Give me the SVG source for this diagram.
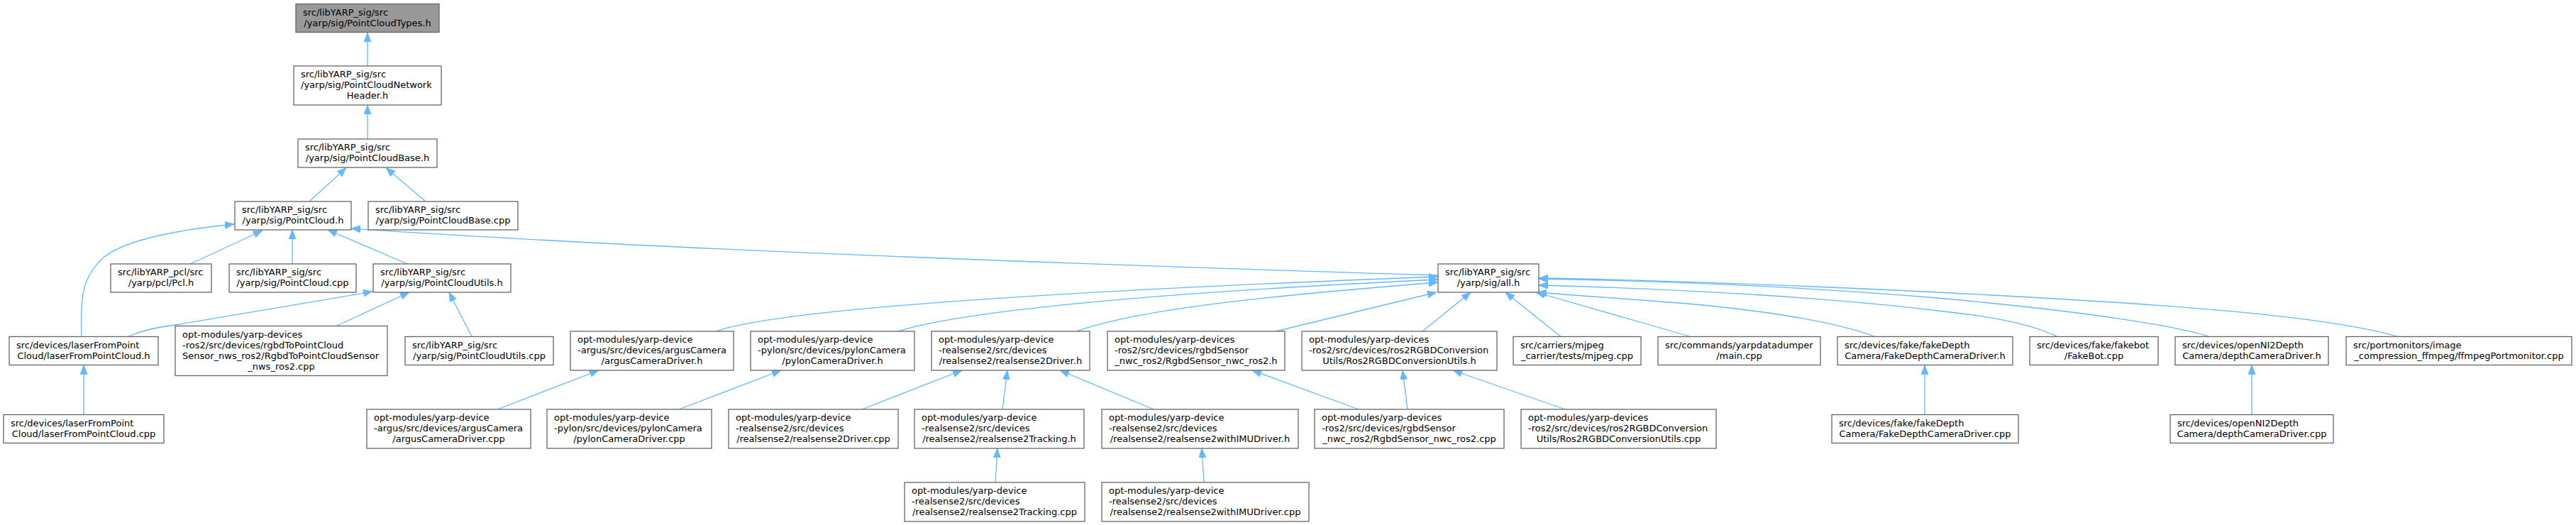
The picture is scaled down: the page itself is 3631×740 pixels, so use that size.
<svg xmlns="http://www.w3.org/2000/svg" width="3631" height="740" viewBox="0 0 3631 740">
<style>
.n rect{fill:#ffffff;stroke:#666666;stroke-width:1.3}
.root rect{fill:#999999}
text{font-family:"DejaVu Sans","Liberation Sans",sans-serif;font-size:13px;fill:#000000}
.m{text-anchor:middle}
.e path{fill:none;stroke:#63b8ff;stroke-width:1.3;marker-end:url(#a)}
</style>
<defs>
<marker id="a" markerUnits="userSpaceOnUse" markerWidth="14" markerHeight="11" refX="13" refY="5" orient="auto"><path d="M0,0 L13,5 L0,10 z" fill="#63b8ff" stroke="#63b8ff" stroke-width="0.8"/></marker>
</defs>
<rect width="3631" height="740" fill="#ffffff"/>
<g id="edges" class="e">
<path d="M518,93 L518,46"/>
<path d="M518,196 L518,148"/>
<path d="M436,284 L488,236.5"/>
<path d="M600,284 L544,236.5"/>
<path d="M115,474.5 C113,420 115,390 147,362 C175,340 240,325 330,316"/>
<path d="M268,372 L370,325"/>
<path d="M412,372 L412,324"/>
<path d="M574,372 L462,324"/>
<path d="M2027,388 C1500,372 900,350 495,322"/>
<path d="M180,474.5 C200,466 220,461 247,458 L525,411"/>
<path d="M474,459.5 L577,412"/>
<path d="M665,474.5 L633,412"/>
<path d="M118,584.5 L118,514.5"/>
<path d="M701,577 L844,522"/>
<path d="M1009,467 C1100,435 1500,410 2027,390"/>
<path d="M1266,467 C1350,440 1600,414 2027,394"/>
<path d="M1517,467 C1600,438 1750,420 2027,398"/>
<path d="M1798,467 L2025,412"/>
<path d="M2005,467 L2073,412"/>
<path d="M2200,474.5 L2122,412"/>
<path d="M2383,474.5 L2165,412"/>
<path d="M2643,474.5 C2590,455 2500,440 2400,430 C2320,423 2240,418 2167,412"/>
<path d="M2900,474.5 C2860,455 2800,445 2731,438 C2600,422 2400,408 2169,402"/>
<path d="M3114,474.5 C3070,460 2950,440 2731,420 C2550,405 2350,396 2169,393"/>
<path d="M3380,474.5 C3280,445 3050,428 2731,412 C2550,403 2350,395 2169,392"/>
<path d="M957,577 L1101,522"/>
<path d="M1215,577 L1356,522"/>
<path d="M1413,577 L1420,522"/>
<path d="M1626,577 L1494,522"/>
<path d="M1403,680 L1406,632"/>
<path d="M1697,680 L1694,632"/>
<path d="M1915,577 L1765,522"/>
<path d="M1984,577 L1977,522"/>
<path d="M2206,577 L2048,522"/>
<path d="M2713,584.5 L2713,514.5"/>
<path d="M3174,584.5 L3174,514.5"/>
</g>
<g id="node_types" class="n root"><rect x="417" y="5.5" width="202" height="40"/><text x="427" y="21.5">src/libYARP_sig/src</text><text class="m" x="518" y="36.5">/yarp/sig/PointCloudTypes.h</text></g>
<g id="node_net" class="n"><rect x="414" y="93" width="208" height="55"/><text x="424" y="109">src/libYARP_sig/src</text><text x="424" y="124">/yarp/sig/PointCloudNetwork</text><text class="m" x="518" y="139">Header.h</text></g>
<g id="node_base" class="n"><rect x="420" y="196" width="196" height="40"/><text x="430" y="212">src/libYARP_sig/src</text><text class="m" x="518" y="227">/yarp/sig/PointCloudBase.h</text></g>
<g id="node_pc" class="n"><rect x="331" y="284" width="164" height="40"/><text x="341" y="300">src/libYARP_sig/src</text><text class="m" x="413" y="315">/yarp/sig/PointCloud.h</text></g>
<g id="node_basecpp" class="n"><rect x="519" y="284" width="211" height="40"/><text x="529" y="300">src/libYARP_sig/src</text><text class="m" x="624.5" y="315">/yarp/sig/PointCloudBase.cpp</text></g>
<g id="node_pcl" class="n"><rect x="156" y="372" width="142" height="40"/><text x="166" y="388">src/libYARP_pcl/src</text><text class="m" x="227" y="403">/yarp/pcl/Pcl.h</text></g>
<g id="node_pccpp" class="n"><rect x="323" y="372" width="179" height="40"/><text x="333" y="388">src/libYARP_sig/src</text><text class="m" x="412.5" y="403">/yarp/sig/PointCloud.cpp</text></g>
<g id="node_utilsh" class="n"><rect x="526" y="372" width="194" height="40"/><text x="536" y="388">src/libYARP_sig/src</text><text class="m" x="623" y="403">/yarp/sig/PointCloudUtils.h</text></g>
<g id="node_allh" class="n"><rect x="2027" y="372" width="142" height="40"/><text x="2037" y="388">src/libYARP_sig/src</text><text class="m" x="2098" y="403">/yarp/sig/all.h</text></g>
<g id="node_laserh" class="n"><rect x="13" y="474.5" width="210" height="40"/><text x="23" y="490.5">src/devices/laserFromPoint</text><text class="m" x="118" y="505.5">Cloud/laserFromPointCloud.h</text></g>
<g id="node_rgbd" class="n"><rect x="247" y="459.5" width="299" height="70"/><text x="257" y="475.5">opt-modules/yarp-devices</text><text x="257" y="490.5">-ros2/src/devices/rgbdToPointCloud</text><text x="257" y="505.5">Sensor_nws_ros2/RgbdToPointCloudSensor</text><text class="m" x="396.5" y="520.5">_nws_ros2.cpp</text></g>
<g id="node_utilscpp" class="n"><rect x="571" y="474.5" width="209" height="40"/><text x="581" y="490.5">src/libYARP_sig/src</text><text class="m" x="675.5" y="505.5">/yarp/sig/PointCloudUtils.cpp</text></g>
<g id="node_argush" class="n"><rect x="804" y="467" width="230" height="55"/><text x="814" y="483">opt-modules/yarp-device</text><text x="814" y="498">-argus/src/devices/argusCamera</text><text class="m" x="919" y="513">/argusCameraDriver.h</text></g>
<g id="node_pylonh" class="n"><rect x="1058" y="467" width="231" height="55"/><text x="1068" y="483">opt-modules/yarp-device</text><text x="1068" y="498">-pylon/src/devices/pylonCamera</text><text class="m" x="1173.5" y="513">/pylonCameraDriver.h</text></g>
<g id="node_rs2h" class="n"><rect x="1313" y="467" width="223" height="55"/><text x="1323" y="483">opt-modules/yarp-device</text><text x="1323" y="498">-realsense2/src/devices</text><text class="m" x="1424.5" y="513">/realsense2/realsense2Driver.h</text></g>
<g id="node_nwch" class="n"><rect x="1561" y="467" width="250" height="55"/><text x="1571" y="483">opt-modules/yarp-devices</text><text x="1571" y="498">-ros2/src/devices/rgbdSensor</text><text class="m" x="1686" y="513">_nwc_ros2/RgbdSensor_nwc_ros2.h</text></g>
<g id="node_convh" class="n"><rect x="1835" y="467" width="275" height="55"/><text x="1845" y="483">opt-modules/yarp-devices</text><text x="1845" y="498">-ros2/src/devices/ros2RGBDConversion</text><text class="m" x="1972.5" y="513">Utils/Ros2RGBDConversionUtils.h</text></g>
<g id="node_mjpeg" class="n"><rect x="2133" y="474.5" width="180" height="40"/><text x="2143" y="490.5">src/carriers/mjpeg</text><text class="m" x="2223" y="505.5">_carrier/tests/mjpeg.cpp</text></g>
<g id="node_main" class="n"><rect x="2337" y="474.5" width="229" height="40"/><text x="2347" y="490.5">src/commands/yarpdatadumper</text><text class="m" x="2451.5" y="505.5">/main.cpp</text></g>
<g id="node_fakeh" class="n"><rect x="2590" y="474.5" width="247" height="40"/><text x="2600" y="490.5">src/devices/fake/fakeDepth</text><text class="m" x="2713.5" y="505.5">Camera/FakeDepthCameraDriver.h</text></g>
<g id="node_fakebot" class="n"><rect x="2861" y="474.5" width="181" height="40"/><text x="2871" y="490.5">src/devices/fake/fakebot</text><text class="m" x="2951.5" y="505.5">/FakeBot.cpp</text></g>
<g id="node_depthh" class="n"><rect x="3066" y="474.5" width="216" height="40"/><text x="3076" y="490.5">src/devices/openNI2Depth</text><text class="m" x="3174" y="505.5">Camera/depthCameraDriver.h</text></g>
<g id="node_ffmpeg" class="n"><rect x="3307" y="474.5" width="318" height="40"/><text x="3317" y="490.5">src/portmonitors/image</text><text class="m" x="3466" y="505.5">_compression_ffmpeg/ffmpegPortmonitor.cpp</text></g>
<g id="node_lasercpp" class="n"><rect x="5" y="584.5" width="226" height="40"/><text x="15" y="600.5">src/devices/laserFromPoint</text><text class="m" x="118" y="615.5">Cloud/laserFromPointCloud.cpp</text></g>
<g id="node_arguscpp" class="n"><rect x="517" y="577" width="231" height="55"/><text x="527" y="593">opt-modules/yarp-device</text><text x="527" y="608">-argus/src/devices/argusCamera</text><text class="m" x="632.5" y="623">/argusCameraDriver.cpp</text></g>
<g id="node_pyloncpp" class="n"><rect x="771" y="577" width="232" height="55"/><text x="781" y="593">opt-modules/yarp-device</text><text x="781" y="608">-pylon/src/devices/pylonCamera</text><text class="m" x="887" y="623">/pylonCameraDriver.cpp</text></g>
<g id="node_rs2cpp" class="n"><rect x="1027" y="577" width="239" height="55"/><text x="1037" y="593">opt-modules/yarp-device</text><text x="1037" y="608">-realsense2/src/devices</text><text class="m" x="1146.5" y="623">/realsense2/realsense2Driver.cpp</text></g>
<g id="node_rs2trackh" class="n"><rect x="1289" y="577" width="239" height="55"/><text x="1299" y="593">opt-modules/yarp-device</text><text x="1299" y="608">-realsense2/src/devices</text><text class="m" x="1408.5" y="623">/realsense2/realsense2Tracking.h</text></g>
<g id="node_rs2imuh" class="n"><rect x="1553" y="577" width="277" height="55"/><text x="1563" y="593">opt-modules/yarp-device</text><text x="1563" y="608">-realsense2/src/devices</text><text class="m" x="1691.5" y="623">/realsense2/realsense2withIMUDriver.h</text></g>
<g id="node_nwccpp" class="n"><rect x="1853" y="577" width="267" height="55"/><text x="1863" y="593">opt-modules/yarp-devices</text><text x="1863" y="608">-ros2/src/devices/rgbdSensor</text><text class="m" x="1986.5" y="623">_nwc_ros2/RgbdSensor_nwc_ros2.cpp</text></g>
<g id="node_convcpp" class="n"><rect x="2144" y="577" width="275" height="55"/><text x="2154" y="593">opt-modules/yarp-devices</text><text x="2154" y="608">-ros2/src/devices/ros2RGBDConversion</text><text class="m" x="2281.5" y="623">Utils/Ros2RGBDConversionUtils.cpp</text></g>
<g id="node_fakecpp" class="n"><rect x="2582" y="584.5" width="263" height="40"/><text x="2592" y="600.5">src/devices/fake/fakeDepth</text><text class="m" x="2713.5" y="615.5">Camera/FakeDepthCameraDriver.cpp</text></g>
<g id="node_depthcpp" class="n"><rect x="3059" y="584.5" width="230" height="40"/><text x="3069" y="600.5">src/devices/openNI2Depth</text><text class="m" x="3174" y="615.5">Camera/depthCameraDriver.cpp</text></g>
<g id="node_rs2trackcpp" class="n"><rect x="1275" y="680" width="254" height="55"/><text x="1285" y="696">opt-modules/yarp-device</text><text x="1285" y="711">-realsense2/src/devices</text><text class="m" x="1402" y="726">/realsense2/realsense2Tracking.cpp</text></g>
<g id="node_rs2imucpp" class="n"><rect x="1553" y="680" width="292" height="55"/><text x="1563" y="696">opt-modules/yarp-device</text><text x="1563" y="711">-realsense2/src/devices</text><text class="m" x="1699" y="726">/realsense2/realsense2withIMUDriver.cpp</text></g>
</svg>
